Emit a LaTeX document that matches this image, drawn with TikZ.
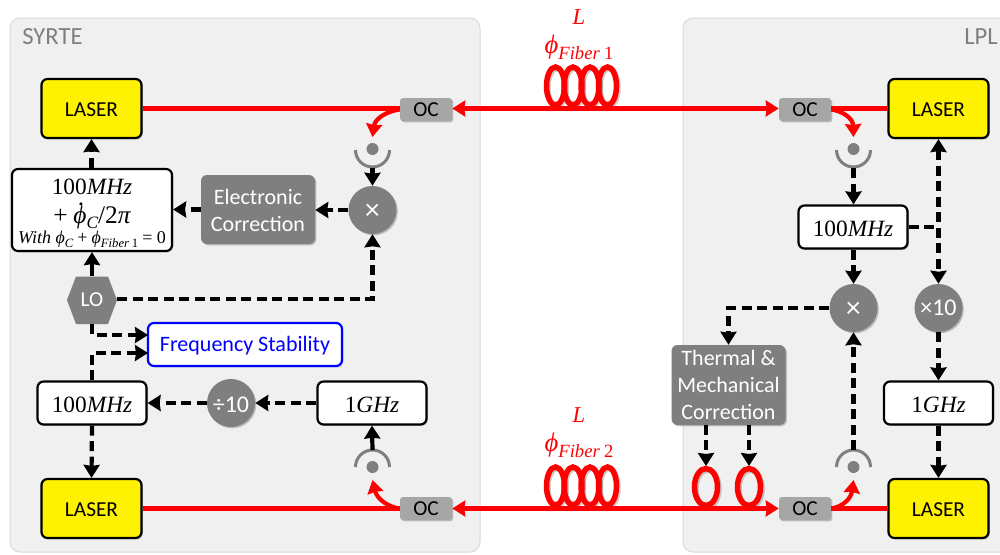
\documentclass[tikz,border=0pt]{standalone}
\usepackage[no-math]{fontspec}
\setmainfont{Carlito}
\newfontfamily\mfont{Liberation Serif}
\newcommand\mi[1]{{\mfont\itshape #1}}
\newcommand\mr[1]{{\mfont #1}}
\newcommand\dn[1]{\raisebox{-1.1pt}[\height][\depth]{#1}}
\newcommand\subs[2]{\raisebox{-.22em}{\fontsize{#1}{#1}\selectfont #2}}
\newcommand\phidot{\makebox[0pt][l]{\hspace{.17em}\raisebox{.7em}{\mr{.}}}\mi{ϕ}}
\usetikzlibrary{arrows.meta,shapes.geometric,shadows,calc}
\def\px{0.75pt}
\definecolor{panel}{HTML}{F0F0F0}
\definecolor{panelline}{HTML}{D9D9D9}
\definecolor{grayfill}{HTML}{7F7F7F}
\definecolor{ocfill}{HTML}{A6A6A6}
\definecolor{labelgray}{HTML}{7F7F7F}
\tikzset{
  softshadow/.style={drop shadow={shadow xshift=1pt,shadow yshift=-1pt,opacity=.22,fill=black}},
  panelbox/.style={fill=panel,draw=panelline,line width=1*\px,rounded corners=10*\px},
  laser/.style={draw=black,fill=yellow,line width=2.2*\px,rounded corners=6*\px,minimum width=100*\px,minimum height=59*\px,inner sep=0pt,font=\fontsize{16}{19}\selectfont,softshadow},
  whitebox/.style={draw=black,fill=white,line width=2.2*\px,rounded corners=6*\px,inner sep=0pt,minimum width=109*\px,minimum height=43*\px,font=\fontsize{17.5}{20}\selectfont,softshadow},
  graybox/.style={fill=grayfill,rounded corners=6*\px,inner sep=0pt,text=white,align=center,softshadow},
  ocbox/.style={fill=ocfill,rounded corners=3*\px,inner sep=0pt,minimum width=52*\px,minimum height=23*\px,font=\fontsize{16}{19}\selectfont,softshadow},
  graycirc/.style={circle,fill=grayfill,inner sep=0pt,minimum size=48*\px,text=white,softshadow},
  detdot/.style={circle,fill=grayfill,inner sep=0pt,minimum size=12*\px},
  detarc/.style={draw=grayfill,line width=3*\px},
  tipk/.tip={Stealth[length=13*\px,width=16*\px,inset=1*\px]},
  blk/.style={draw=black,line width=4.2*\px,dash pattern=on 10*\px off 5.5*\px,-tipk},
  blksolid/.style={draw=black,line width=4.2*\px,-tipk},
  blkplain/.style={draw=black,line width=4.2*\px,dash pattern=on 10*\px off 5.5*\px},
  redline/.style={draw=red,line width=4.2*\px},
  redarrow/.style={draw=red,line width=4.2*\px,-tipk},
  redboth/.style={draw=red,line width=4.2*\px,tipk-tipk},
  coil/.style={ellipse,draw=red,line width=5.5*\px,inner sep=0pt,minimum width=18*\px,minimum height=38*\px},
  loopc/.style={ellipse,draw=red,line width=5.5*\px,inner sep=0pt,minimum width=23*\px,minimum height=37*\px},
  coilshadow/.style={draw=black,opacity=.2,line width=5.5*\px},
  redlabel/.style={text=red,inner sep=0pt},
}
\begin{document}
\begin{tikzpicture}[x=0.75pt,y=-0.75pt]
\useasboundingbox (0,0) rectangle (1000,554);
% panels
\path[panelbox] (10,18) rectangle (480,552);
\path[panelbox] (683,18) rectangle (1020,552);
\node[anchor=west,text=labelgray,inner sep=0pt,font=\fontsize{18.5}{21}\selectfont] (syrte) at (22,37) {SYRTE};
\node[anchor=east,text=labelgray,inner sep=0pt,font=\fontsize{18.5}{21}\selectfont] (lpl) at (998,37) {LPL};
% lasers
\node[laser] (l1) at (91.5,108.5) {\dn{LASER}};
\node[laser] (l2) at (91.5,508.5) {\dn{LASER}};
\node[laser] (r1) at (938.5,108.5) {\dn{LASER}};
\node[laser] (r2) at (938.5,508.5) {\dn{LASER}};
% couplers
\node[ocbox] (oc1) at (426,109.5) {OC};
\node[ocbox] (oc2) at (426,508.5) {OC};
\node[ocbox] (oc3) at (805,109.5) {OC};
\node[ocbox] (oc4) at (805,508.5) {OC};
% coils
\foreach \cx in {555.5,573,590,607.5}{
  \draw[coilshadow] (\cx+1.5,87.5) ellipse [x radius=9,y radius=19];
  \draw[coilshadow] (\cx+1.5,487.5) ellipse [x radius=9,y radius=19];
}
\foreach \cx in {706,749}{
  \draw[coilshadow] (\cx+1.5,488.5) ellipse [x radius=11.5,y radius=18.5];
}
\foreach \n/\cx in {a/555.5,b/573,c/590,d/607.5}{
  \node[coil] (t\n) at (\cx,86) {};
  \node[coil] (b\n) at (\cx,486) {};
}
\node[loopc] (loop1) at (706,487) {};
\node[loopc] (loop2) at (749,487) {};
% red fibres
\draw[redline] (l1.east) -- (oc1.west |- l1.east);
\draw[redline] (l2.east) -- (oc2.west |- l2.east);
\draw[redline] (oc3.east |- r1.west) -- (r1.west);
\draw[redline] (oc4.east |- r2.west) -- (r2.west);
\draw[redboth] (oc1.east |- l1.east) -- (oc3.west |- l1.east);
\draw[redboth] (oc2.east |- l2.east) -- (oc4.west |- l2.east);
% fibre labels
\node[redlabel,font=\fontsize{17}{20}\selectfont] (la) at (579,17) {\mi{L}};
\node[redlabel,font=\fontsize{20}{22}\selectfont] (pa) at (579,47.5) {\mi{ϕ}\subs{14}{\mi{Fiber} \mr{1}}};
\node[redlabel,font=\fontsize{17}{20}\selectfont] (lb) at (579,415) {\mi{L}};
\node[redlabel,font=\fontsize{20}{22}\selectfont] (pb) at (579,445.5) {\mi{ϕ}\subs{14}{\mi{Fiber} \mr{2}}};
% detectors
\node[detdot] (d1) at (372.5,149) {};
\node[detdot] (d2) at (372.5,467) {};
\node[detdot] (d3) at (853.5,149) {};
\node[detdot] (d4) at (853.5,467) {};
\foreach \c in {d1,d3}{
  \draw[detarc,shift={(\c)}] (-17,1) .. controls (-17,10.4) and (-9.4,18) .. (0,18) .. controls (9.4,18) and (17,10.4) .. (17,1);
}
\foreach \c in {d2,d4}{
  \draw[detarc,shift={(\c)}] (-17,0) .. controls (-17,-9.4) and (-9.4,-17) .. (0,-17) .. controls (9.4,-17) and (17,-9.4) .. (17,0);
}
\coordinate (d1b) at (372.5,168);
\coordinate (d2t) at (372.5,450);
\coordinate (d3b) at (853.5,168);
\coordinate (d4t) at (853.5,450);
\coordinate (d1r) at (372.5,137);
\coordinate (d2r) at (372.5,480);
\coordinate (d3r) at (853.5,137);
\coordinate (d4r) at (853.5,480);
% red tap arrows
\draw[redarrow] (oc1.west) .. controls (388,111) and (375,118) .. (d1r);
\draw[redarrow] (oc2.west) .. controls (388,507) and (377,499) .. (d2r);
\draw[redarrow] (oc3.east) .. controls (842,111) and (853,118) .. (d3r);
\draw[redarrow] (oc4.east) .. controls (842,507) and (851,499) .. (d4r);
% left panel blocks
\node[whitebox,minimum width=160*\px,minimum height=82*\px] (corr) at (92,210) {};
\node[inner sep=0pt,align=center,font=\fontsize{17.5}{21}\selectfont] (corrtext) at (92,213) {%
  \mr{100}\mi{MHz}\\[1pt]
  {\fontsize{19}{21}\selectfont\mr{+} \phidot\subs{13}{\mi{C}}\mr{/2}\mi{π}}\\[-6pt]
  {\fontsize{13.5}{14}\selectfont\mi{With ϕ}\subs{9.5}{\mi{C}} \mr{+} \mi{ϕ}\subs{9.5}{\mi{Fiber} \mr{1}} \mr{= 0}}};
\node[graybox,minimum width=114*\px,minimum height=69*\px,font=\fontsize{16.5}{20.5}\selectfont] (elec) at (258,209.5) {\rule{0pt}{13pt}Electronic\\Correction};
\node[graycirc,font=\fontsize{22}{24}\selectfont] (mix1) at (372.5,210) {\dn{×}};
\path[fill=grayfill] (67,300) -- (76,276.5) -- (108,276.5) -- (117,300) -- (108,324) -- (76,324) -- cycle;
\node[inner sep=0pt,minimum width=50*\px,minimum height=47.5*\px,text=white,font=\fontsize{16}{19}\selectfont] (lo) at (92,300) {LO};
\node[draw=blue,fill=white,line width=2.2*\px,rounded corners=6*\px,inner sep=0pt,minimum width=194*\px,minimum height=43*\px,text=blue,font=\fontsize{16.5}{19}\selectfont,softshadow] (fs) at (245,344.5) {\dn{Frequency Stability}};
\node[whitebox] (m1) at (92,403) {\dn{\mr{100}\mi{MHz}}};
\node[graycirc,font=\fontsize{18}{20}\selectfont] (div) at (231,403) {\dn{÷10}};
\node[whitebox] (g1) at (372,403) {\dn{\mr{1}\mi{GHz}}};
% right panel blocks
\node[whitebox] (m2) at (853,227) {\dn{\mr{100}\mi{MHz}}};
\node[graycirc,font=\fontsize{22}{24}\selectfont] (mix2) at (853.5,308) {\dn{×}};
\node[graycirc,font=\fontsize{18}{20}\selectfont] (mul) at (938.5,308) {×10};
\node[whitebox] (g2) at (938.5,403) {\dn{\mr{1}\mi{GHz}}};
\node[graybox,minimum width=114*\px,minimum height=80*\px,font=\fontsize{16.5}{20}\selectfont] (therm) at (728.5,385) {Thermal \&\\Mechanical\\Correction};
% helper points
\coordinate (c1) at (372.5,299);
\coordinate (fsa) at (148,335);
\coordinate (fsb) at (148,353);
\coordinate (lob) at (92,335);
\coordinate (mt) at (92,353);
\coordinate (j1) at (938.5,227);
\coordinate (j2) at (728.5,308);
\coordinate (u1) at (706,424.5);
\coordinate (u2) at (749,424.5);
\coordinate (v1) at (706,466);
\coordinate (v2) at (749,466);
% black connectors, left
\draw[blk] (corr.north -| l1.south) -- (l1.south);
\draw[blksolid] (lo.north) -- (corr.south);
\draw[blk] (elec.west) -- (corr.east |- elec.west);
\draw[blk] (mix1.west) -- (elec.east |- mix1.west);
\draw[blksolid] (d1b) -- (mix1.north);
\draw[blk] (lo.east |- c1) -- (c1) -- (mix1.south);
\draw[blk] (lo.south) -- (lob) -- (fsa);
\draw[blk] (m1.north) -- (mt) -- (fsb);
\draw[blk] (m1.south) -- (l2.north);
\draw[blk] (div.west) -- (m1.east);
\draw[blk] (g1.west) -- (div.east);
\draw[blksolid] (d2t) -- (g1.south);
% black connectors, right
\draw[blk] (d3b) -- (m2.north -| d3b);
\draw[blk] (m2.south -| mix2.north) -- (mix2.north);
\draw[blkplain] (m2.east) -- (j1);
\draw[blk,tipk-tipk] (r1.south) -- (mul.north);
\draw[blk] (mix2.west) -- (j2) -- (therm.north);
\draw[blk] (d4t) -- (mix2.south);
\draw[blk] (mul.south) -- (g2.north);
\draw[blk] (g2.south) -- (r2.north);
\draw[blk] (u1) -- (v1);
\draw[blk] (u2) -- (v2);
\end{tikzpicture}
\end{document}
